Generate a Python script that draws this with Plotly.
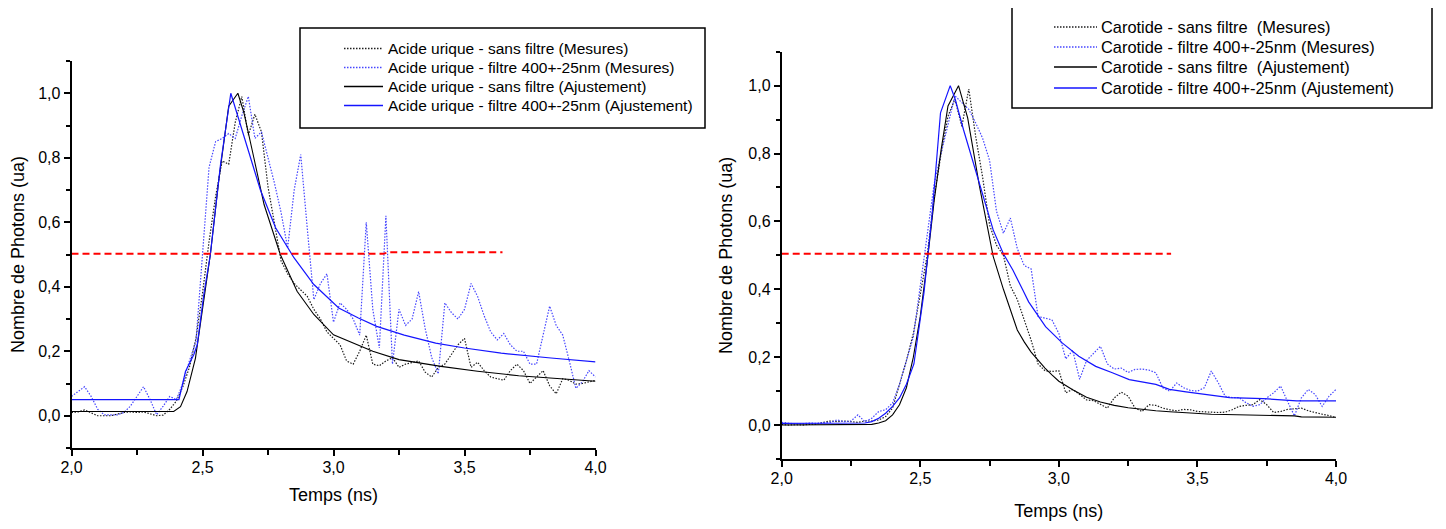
import plotly.graph_objects as go

# ---------------- data: left panel (Acide urique) ----------------
t_meas = [round(2.0 + 0.025 * i, 3) for i in range(81)]

au_sans_mes = [0.01, 0.012, 0.018, 0.01, 0.0, 0.0, 0.0, 0.005, 0.01, 0.012,
               0.01, 0.012, 0.005, 0.0, 0.002, 0.02, 0.045, 0.09, 0.15, 0.24,
               0.38, 0.54, 0.68, 0.79, 0.78, 0.91, 0.99, 0.87, 0.935, 0.88,
               0.71, 0.60, 0.48, 0.44, 0.41, 0.39, 0.37, 0.33, 0.30, 0.26,
               0.24, 0.22, 0.17, 0.16, 0.20, 0.25, 0.16, 0.155, 0.17, 0.18,
               0.15, 0.16, 0.165, 0.17, 0.135, 0.12, 0.15, 0.16, 0.19, 0.22,
               0.24, 0.15, 0.166, 0.14, 0.12, 0.115, 0.11, 0.14, 0.16, 0.14,
               0.10, 0.12, 0.14, 0.093, 0.068, 0.115, 0.11, 0.098, 0.10, 0.105,
               0.11]

au_filtre_mes = [0.06, 0.075, 0.09, 0.06, 0.02, 0.003, 0.003, 0.003, 0.01, 0.03,
                 0.06, 0.09, 0.05, 0.003, 0.03, 0.06, 0.05, 0.10, 0.17, 0.23,
                 0.50, 0.77, 0.85, 0.86, 0.875, 0.86, 0.93, 0.99, 0.86, 0.88,
                 0.80, 0.72, 0.63, 0.52, 0.70, 0.81, 0.58, 0.36, 0.41, 0.44,
                 0.29, 0.35, 0.33, 0.30, 0.25, 0.60, 0.33, 0.21, 0.62, 0.16,
                 0.33, 0.28, 0.30, 0.385, 0.27, 0.18, 0.13, 0.35, 0.32, 0.30,
                 0.33, 0.41, 0.37, 0.31, 0.26, 0.235, 0.255, 0.22, 0.20, 0.20,
                 0.16, 0.16, 0.25, 0.34, 0.28, 0.25, 0.17, 0.085, 0.105, 0.14,
                 0.12]

au_sans_fit_t = [2.0, 2.39, 2.416, 2.441, 2.473, 2.505, 2.53, 2.562, 2.60, 2.635,
                 2.658, 2.696, 2.735, 2.797, 2.861, 2.925, 3.0, 3.15, 3.25, 3.41,
                 3.55, 3.707, 4.0]
au_sans_fit = [0.013, 0.013, 0.028, 0.075, 0.178, 0.365, 0.50, 0.73, 0.96, 1.0,
               0.94, 0.80, 0.655, 0.50, 0.386, 0.314, 0.251, 0.20, 0.174, 0.153,
               0.138, 0.124, 0.107]

au_filtre_fit_t = [2.0, 2.41, 2.435, 2.467, 2.48, 2.505, 2.53, 2.569, 2.608, 2.64,
                   2.683, 2.721, 2.779, 2.849, 2.925, 3.02, 3.095, 3.165, 3.27, 3.39,
                   3.5, 3.64, 3.83, 4.0]
au_filtre_fit = [0.05, 0.05, 0.137, 0.19, 0.22, 0.376, 0.50, 0.78, 1.0, 0.915,
                 0.80, 0.70, 0.583, 0.49, 0.407, 0.334, 0.303, 0.277, 0.25, 0.225,
                 0.21, 0.194, 0.179, 0.167]

au_half_t = [2.0, 3.19, 3.21, 3.645]
au_half = [0.502, 0.502, 0.507, 0.507]

# ---------------- data: right panel (Carotide) ----------------
ca_sans_mes = [0.002, 0.0, 0.001, 0.0, 0.002, 0.003, 0.008, 0.012, 0.01, 0.012,
               0.01, 0.008, 0.012, 0.012, 0.015, 0.025, 0.05, 0.12, 0.19, 0.27,
               0.38, 0.50, 0.67, 0.80, 0.91, 0.96, 0.88, 0.99, 0.85, 0.73,
               0.59, 0.53, 0.50, 0.41, 0.37, 0.31, 0.25, 0.18, 0.16, 0.158,
               0.16, 0.095, 0.105, 0.09, 0.074, 0.072, 0.06, 0.05, 0.08, 0.097,
               0.085, 0.05, 0.04, 0.06, 0.058, 0.05, 0.045, 0.042, 0.046, 0.045,
               0.04, 0.04, 0.038, 0.037, 0.038, 0.045, 0.055, 0.058, 0.06, 0.075,
               0.06, 0.037, 0.04, 0.046, 0.048, 0.05, 0.042, 0.036, 0.032, 0.028,
               0.022]

ca_filtre_mes = [0.008, 0.005, 0.003, 0.004, 0.006, 0.005, 0.006, 0.008, 0.015, 0.01,
                 0.012, 0.03, 0.01, 0.02, 0.04, 0.045, 0.065, 0.12, 0.19, 0.26,
                 0.41, 0.56, 0.71, 0.80, 0.89, 0.97, 0.95, 0.93, 0.89, 0.845,
                 0.78, 0.63, 0.565, 0.61, 0.52, 0.47, 0.46, 0.32, 0.315, 0.31,
                 0.27, 0.195, 0.22, 0.135, 0.19, 0.21, 0.232, 0.18, 0.165, 0.168,
                 0.155, 0.164, 0.165, 0.162, 0.154, 0.11, 0.10, 0.124, 0.11, 0.102,
                 0.10, 0.11, 0.159, 0.125, 0.085, 0.081, 0.081, 0.066, 0.055, 0.06,
                 0.08, 0.095, 0.115, 0.07, 0.027, 0.08, 0.105, 0.09, 0.055, 0.085,
                 0.105]

ca_sans_fit_t = [2.0, 2.3, 2.325, 2.35, 2.375, 2.4, 2.425, 2.45, 2.475, 2.5,
                 2.525, 2.55, 2.575, 2.6, 2.638, 2.671, 2.713, 2.763, 2.8, 2.85,
                 2.875, 2.9, 2.925, 2.95, 2.975, 3.0, 3.05, 3.1, 3.15, 3.2,
                 3.25, 3.3, 3.35, 3.4, 3.45, 3.5, 3.55, 3.6, 3.7, 3.8,
                 3.85, 3.875, 4.0]
ca_sans_fit = [0.0, 0.0, 0.002, 0.006, 0.013, 0.03, 0.06, 0.11, 0.20, 0.32,
               0.48, 0.66, 0.81, 0.94, 1.0, 0.905, 0.706, 0.497, 0.40, 0.28,
               0.245, 0.215, 0.19, 0.168, 0.148, 0.129, 0.104, 0.082, 0.068, 0.058,
               0.051, 0.046, 0.042, 0.039, 0.036, 0.034, 0.032, 0.031, 0.029, 0.028,
               0.027, 0.024, 0.023]

ca_filtre_fit_t = [2.0, 2.275, 2.3, 2.325, 2.35, 2.375, 2.4, 2.425, 2.45, 2.477,
                   2.513, 2.543, 2.573, 2.608, 2.626, 2.656, 2.692, 2.727, 2.763, 2.799,
                   2.834, 2.87, 2.891, 2.952, 3.012, 3.072, 3.133, 3.193, 3.254, 3.35,
                   3.399, 3.459, 3.543, 3.616, 3.737, 3.858, 4.0]
ca_filtre_fit = [0.005, 0.005, 0.006, 0.01, 0.02, 0.035, 0.055, 0.08, 0.12, 0.18,
                 0.388, 0.624, 0.92, 1.0, 0.96, 0.87, 0.77, 0.673, 0.575, 0.506,
                 0.457, 0.398, 0.363, 0.29, 0.242, 0.203, 0.173, 0.154, 0.134, 0.12,
                 0.105, 0.098, 0.09, 0.081, 0.078, 0.071, 0.071]

ca_half_t = [2.0, 3.405]
ca_half = [0.505, 0.505]

# ---------------- labels ----------------
left_names = ["Acide urique - sans filtre (Mesures)",
              "Acide urique - filtre 400+-25nm (Mesures)",
              "Acide urique - sans filtre (Ajustement)",
              "Acide urique - filtre 400+-25nm (Ajustement)"]
right_names = ["Carotide - sans filtre\u00a0 (Mesures)",
               "Carotide - filtre 400+-25nm (Mesures)",
               "Carotide - sans filtre\u00a0 (Ajustement)",
               "Carotide - filtre 400+-25nm (Ajustement)"]

BLACK_MES = "#1e1e1e"
BLUE_MES = "#4646ff"
BLACK_FIT = "#000000"
BLUE_FIT = "#1414ff"
RED = "#ff0000"
DOT = "1.5px,1.5px"
LINE_COLORS = [BLACK_MES, BLUE_MES, BLACK_FIT, BLUE_FIT]
LINE_WIDTHS = [1.2, 1.2, 1.1, 1.2]
LINE_DASHES = [DOT, DOT, "solid", "solid"]

fig = go.Figure()


def add_panel(xa, ya, names, sans_mes, filtre_mes, sf_t, sf, ff_t, ff, h_t, h):
    series = [(t_meas, sans_mes), (t_meas, filtre_mes), (sf_t, sf), (ff_t, ff)]
    for i, (xs, ys) in enumerate(series):
        fig.add_trace(go.Scatter(x=xs, y=ys, mode="lines", name=names[i],
                                 line=dict(color=LINE_COLORS[i], width=LINE_WIDTHS[i],
                                           dash=LINE_DASHES[i]),
                                 showlegend=False, xaxis=xa, yaxis=ya))
    fig.add_trace(go.Scatter(x=h_t, y=h, mode="lines", showlegend=False,
                             line=dict(color=RED, width=2, dash="7px,4px"),
                             xaxis=xa, yaxis=ya))


add_panel("x", "y", left_names, au_sans_mes, au_filtre_mes,
          au_sans_fit_t, au_sans_fit, au_filtre_fit_t, au_filtre_fit, au_half_t, au_half)
add_panel("x2", "y2", right_names, ca_sans_mes, ca_filtre_mes,
          ca_sans_fit_t, ca_sans_fit, ca_filtre_fit_t, ca_filtre_fit, ca_half_t, ca_half)

# page is 1446x529 but the html body has an 8px margin
OFF = 8
W, H = 1446 - 2 * OFF, 529 - 2 * OFF
FONT = "Liberation Sans, Arial, sans-serif"


def px(x):
    return (x - OFF) / W


def py(y):
    return 1 - (y - OFF) / H


def xaxis(domain, anchor, standoff):
    return dict(domain=domain, anchor=anchor, range=[2, 4], tick0=2, dtick=0.5,
                tickformat=".1f", ticks="outside", ticklen=6, tickwidth=1.5,
                tickcolor="black", showline=True, linecolor="black", linewidth=1.8,
                showgrid=False, zeroline=False, automargin=False,
                ticklabelstandoff=-2,
                minor=dict(dtick=0.25, ticks="outside", ticklen=5, tickwidth=1.5,
                           tickcolor="black", showgrid=False),
                tickfont=dict(family=FONT, size=16, color="black"),
                title=dict(text="Temps (ns)", font=dict(family=FONT, size=18, color="black"),
                           standoff=standoff))


def yaxis(domain, anchor, standoff):
    return dict(domain=domain, anchor=anchor, range=[-0.1, 1.1], tick0=0, dtick=0.2,
                tickformat=".1f", ticks="outside", ticklen=6, tickwidth=1.5,
                tickcolor="black", showline=True, linecolor="black", linewidth=1.8,
                showgrid=False, zeroline=False, automargin=False,
                minor=dict(dtick=0.1, ticks="outside", ticklen=4, tickwidth=1.5,
                           tickcolor="black", showgrid=False),
                tickfont=dict(family=FONT, size=16, color="black"),
                title=dict(text="Nombre de Photons (ua)",
                           font=dict(family=FONT, size=18, color="black"), standoff=standoff))


# ---------------- legend boxes (drawn as shapes + text) ----------------
shapes = [
    dict(type="rect", xref="paper", yref="paper", layer="below",
         x0=px(300), x1=px(705), y0=py(128), y1=py(28),
         line=dict(color="black", width=1.5), fillcolor="rgba(0,0,0,0)"),
    dict(type="rect", xref="paper", yref="paper", layer="below",
         x0=px(1012), x1=px(1432), y0=py(108), y1=py(5),
         line=dict(color="black", width=1.5), fillcolor="rgba(0,0,0,0)"),
]
annotations = []


def add_legend(names, rows, x_line0, x_line1, x_text, size):
    for i, nm in enumerate(names):
        yy = rows[i]
        shapes.append(dict(type="line", xref="paper", yref="paper", layer="above",
                           x0=px(x_line0), x1=px(x_line1), y0=py(yy), y1=py(yy),
                           line=dict(color=LINE_COLORS[i], width=LINE_WIDTHS[i] + 0.2,
                                     dash=LINE_DASHES[i])))
        annotations.append(dict(text=nm, xref="paper", yref="paper", x=px(x_text),
                                y=py(yy), xanchor="left", yanchor="middle",
                                showarrow=False,
                                font=dict(family=FONT, size=size, color="black")))


add_legend(left_names, [48.5, 67.5, 86.5, 105.5], 344, 383, 386, 15.5)
add_legend(right_names, [27, 47, 67, 88], 1054, 1097, 1099, 16.4)

fig.update_layout(
    width=W, height=H,
    margin=dict(l=0, r=0, t=0, b=0),
    paper_bgcolor="white", plot_bgcolor="white",
    separators=", ",
    showlegend=False,
    font=dict(family=FONT, color="black"),
    xaxis=xaxis([px(71.5), px(595.5)], "y", 13),
    yaxis=yaxis([py(448), py(61)], "x", 10),
    xaxis2=xaxis([px(781.7), px(1336)], "y2", 19),
    yaxis2=yaxis([py(459), py(51.7)], "x2", 11),
    shapes=shapes,
    annotations=annotations,
)

fig.write_html("out.html")
